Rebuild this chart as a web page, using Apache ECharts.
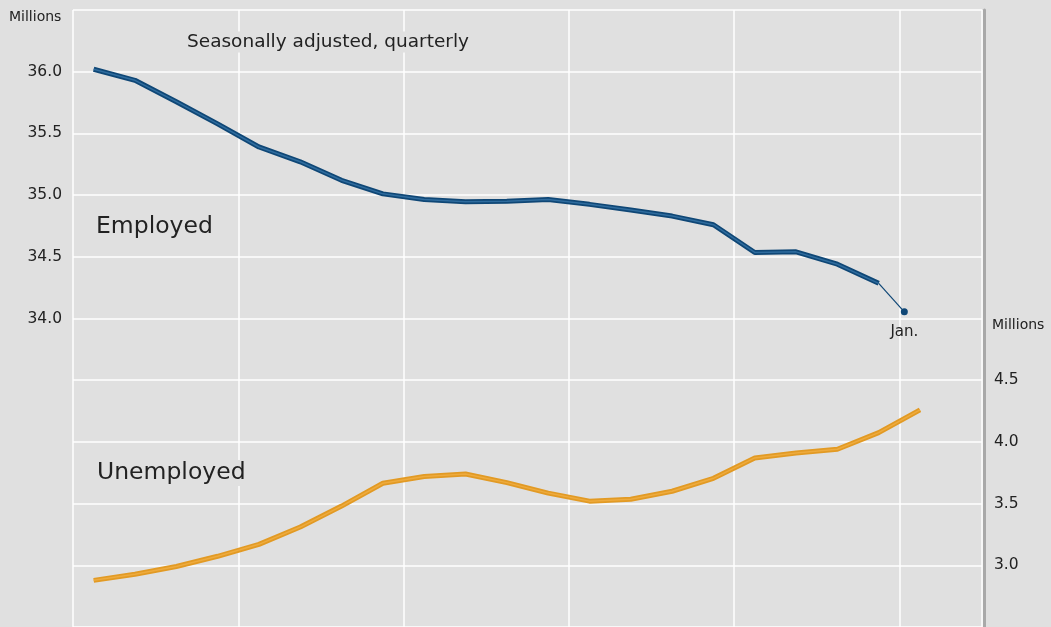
<!DOCTYPE html>
<html>
<head>
<meta charset="utf-8">
<script src="https://cdn.jsdelivr.net/npm/echarts@6/dist/echarts.min.js"></script>
<style>
  html, body { margin: 0; padding: 0; background: #e0e0e0; }
  #main { width: 1051px; height: 627px; }
</style>
</head>
<body>
<div id="main"></div>
<script>
// quarterly values, millions
var employed = [36.02, 35.93, 35.757, 35.577, 35.39, 35.27, 35.12, 35.01, 34.965, 34.946,
                34.95, 34.965, 34.925, 34.88, 34.83, 34.76, 34.535, 34.54, 34.44, 34.285];
var employedJan = 34.054;
var unemployed = [2.878, 2.927, 2.99, 3.073, 3.17, 3.31, 3.48, 3.665, 3.72, 3.74,
                  3.67, 3.585, 3.52, 3.535, 3.60, 3.705, 3.87, 3.91, 3.94, 4.075, 4.26];
var leftTicks = ['34.0', '34.5', '35.0', '35.5', '36.0'];
var rightTicks = ['3.0', '3.5', '4.0', '4.5'];

var font = '"DejaVu Sans", "Noto Sans", sans-serif';
var bg = '#e0e0e0';

// x is measured in quarters, each point sits mid-quarter
function toPairs(arr) {
  var out = [];
  for (var i = 0; i < arr.length; i++) out.push([i + 0.5, arr[i]]);
  return out;
}
var empData = toPairs(employed);
var unempData = toPairs(unemployed);
var janX = employed.length + 0.12; // January, early in the next quarter

// annotation text sits on a gray box so grid lines stop around it
function note(text, x, y, size) {
  return {
    type: 'text', x: x, y: y, z: 100,
    style: {
      text: text, font: size + 'px ' + font, fill: '#222',
      verticalAlign: 'middle', backgroundColor: bg, padding: [1, 2]
    }
  };
}

var chartDom = document.getElementById('main');
var myChart = echarts.init(chartDom);
var option;

option = {
  backgroundColor: bg,
  animation: false,
  grid: { left: 73, right: 69, top: 10, bottom: 0 },
  xAxis: {
    type: 'value',
    min: 0,
    max: 22,
    interval: 4,
    axisLine: { show: false },
    axisTick: { show: false },
    axisLabel: { show: false },
    splitLine: { show: true, lineStyle: { color: '#ffffff', width: 1.5 } }
  },
  yAxis: [
    {
      type: 'value',
      min: 31.5,
      max: 36.5,
      interval: 0.5,
      axisLine: { show: false },
      axisTick: { show: false },
      axisLabel: {
        margin: 11,
        color: '#222',
        fontSize: 15.5,
        fontFamily: font,
        formatter: function (v) {
          var s = v.toFixed(1);
          return leftTicks.indexOf(s) >= 0 ? s : '';
        }
      },
      splitLine: { show: true, lineStyle: { color: '#ffffff', width: 1.5 } }
    },
    {
      type: 'value',
      position: 'right',
      offset: 2,
      min: 2.5,
      max: 7.5,
      interval: 0.5,
      axisLine: { show: true, lineStyle: { color: '#a9a9a9', width: 3 } },
      axisTick: { show: false },
      axisLabel: {
        margin: 10,
        color: '#222',
        fontSize: 15.5,
        fontFamily: font,
        formatter: function (v) {
          var s = v.toFixed(1);
          return rightTicks.indexOf(s) >= 0 ? s : '';
        }
      },
      splitLine: { show: false }
    }
  ],
  graphic: [
    note('Millions', 7, 17, 14),
    note('Seasonally adjusted, quarterly', 185, 42, 18.5),
    note('Employed', 94, 227, 23.5),
    note('Unemployed', 95, 473, 23.5),
    note('Millions', 990, 325, 14)
  ],
  series: [
    {
      name: 'Employed',
      type: 'line',
      yAxisIndex: 0,
      data: empData,
      symbol: 'none',
      lineStyle: { color: '#0f4776', width: 5 },
      z: 3
    },
    {
      name: 'Employed inner',
      type: 'line',
      yAxisIndex: 0,
      data: empData,
      symbol: 'none',
      lineStyle: { color: '#2f6c9e', width: 1.5 },
      z: 4
    },
    {
      name: 'Employed Jan',
      type: 'line',
      yAxisIndex: 0,
      data: [
        { value: empData[empData.length - 1], symbol: 'none' },
        {
          value: [janX, employedJan],
          symbol: 'circle',
          symbolSize: 7,
          label: {
            show: true,
            position: 'bottom',
            distance: 9,
            formatter: 'Jan.',
            color: '#222',
            fontSize: 15,
            fontFamily: font
          }
        }
      ],
      itemStyle: { color: '#0f4776' },
      lineStyle: { color: '#0f4776', width: 1.2 },
      z: 3
    },
    {
      name: 'Unemployed',
      type: 'line',
      yAxisIndex: 1,
      data: unempData,
      symbol: 'none',
      lineStyle: { color: '#e29a24', width: 5 },
      z: 3
    },
    {
      name: 'Unemployed inner',
      type: 'line',
      yAxisIndex: 1,
      data: unempData,
      symbol: 'none',
      lineStyle: { color: '#eeab3e', width: 1.5 },
      z: 4
    }
  ]
};

option && myChart.setOption(option);
</script>
</body>
</html>
